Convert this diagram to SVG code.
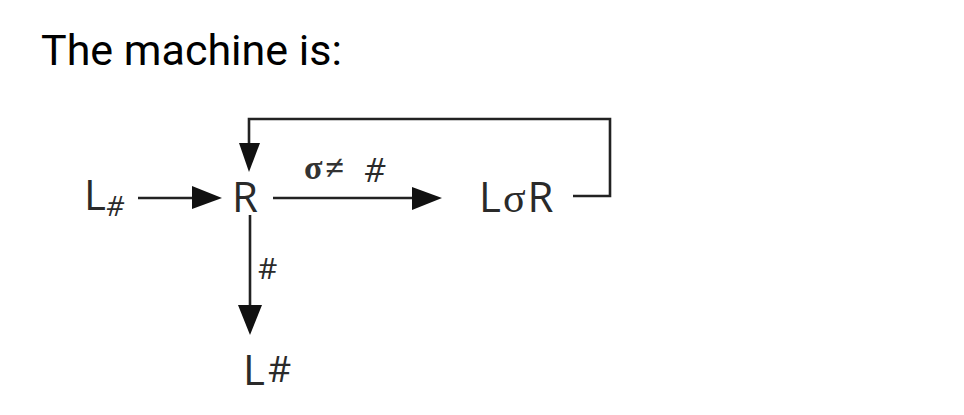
<svg xmlns="http://www.w3.org/2000/svg" width="964" height="415" viewBox="0 0 964 415">
<style>
.t{font-family:"Open Sans","DejaVu Sans",sans-serif;font-weight:400;fill:#2a2a2a}
.ln{stroke:#222;stroke-width:2.6;fill:none}
.hd{fill:#111}
</style>
<rect width="964" height="415" fill="#fff"/>
<text x="41" y="65" font-family="Roboto, sans-serif" font-size="43" fill="#000">The machine is:</text>
<g id="start"><text class="t" x="84" y="210" font-size="42">L</text><text class="t" x="106" y="216" font-size="28" font-style="italic">#</text></g>
<g id="R"><text class="t" x="232" y="212" font-size="42">R</text></g>
<g id="LsR"><text class="t" x="479" y="212" font-size="42" letter-spacing="2">L<tspan font-family="Liberation Serif, serif">σ</tspan>R</text></g>
<g id="Lhash"><text class="t" x="243" y="385" font-size="42">L</text><text class="t" x="268" y="382" font-size="36">#</text></g>
<g id="connectors">
<line class="ln" x1="138" y1="198" x2="195" y2="198"/>
<polygon class="hd" points="192,186 222,198 192,209"/>
<line class="ln" x1="273" y1="198" x2="415" y2="198"/>
<polygon class="hd" points="412,187 442,198 412,210"/>
<text x="304" y="179" font-family="Liberation Serif, serif" font-size="34" font-weight="bold" fill="#333" letter-spacing="3">σ≠</text>
<text class="t" x="364" y="182" font-size="33" font-style="italic">#</text>
<polyline class="ln" points="573,196 610,196 610,119 249,119 249,146"/>
<polygon class="hd" points="239,143 260,143 249,172"/>
<line class="ln" x1="250" y1="215" x2="250" y2="308"/>
<polygon class="hd" points="238,305 262,305 250,335"/>
<text class="t" x="258" y="279" font-size="30">#</text>
</g>
</svg>
